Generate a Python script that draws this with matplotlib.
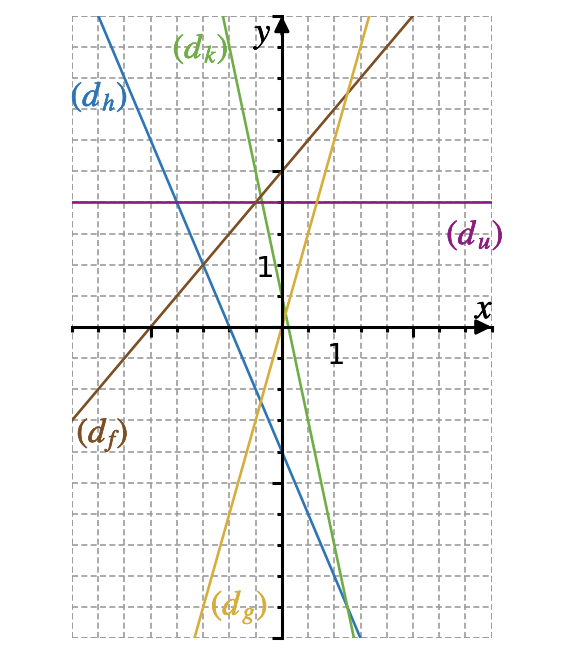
import numpy as np
import matplotlib
matplotlib.use("Agg")
import matplotlib.pyplot as plt
import matplotlib.patheffects as pe
from matplotlib.ticker import MultipleLocator, NullFormatter

plt.rcParams["mathtext.fontset"] = "stix"

# lines y = a*x + b
names = ["h", "k", "u", "f", "g"]
slopes = [-2.0, -4.0, 0.0, 1.0, 3.0]
intercepts = [-2.0, 0.5, 2.0, 2.5, 0.0]
colors = ["#2e75b6", "#70ad47", "#8b1c7e", "#7b4f23", "#d6ae3c"]
# label anchor (baseline) in data coords
label_x = [-3.48, -1.55, 3.68, -3.42, -0.81]
label_y = [3.55, 4.32, 1.33, -1.85, -4.62]

xmin, xmax = -4, 4
ymin, ymax = -5, 5

fig = plt.figure(figsize=(5.66, 6.6), dpi=100)
ax = fig.add_axes([72 / 566, 21.7 / 660, 419.7 / 566, 622.6 / 660])
ax.set_xlim(xmin, xmax)
ax.set_ylim(ymin, ymax)

# grid
ax.xaxis.set_major_locator(MultipleLocator(2.5))
ax.yaxis.set_major_locator(MultipleLocator(2.5))
ax.xaxis.set_minor_locator(MultipleLocator(0.5))
ax.yaxis.set_minor_locator(MultipleLocator(0.5))
ax.xaxis.set_major_formatter(NullFormatter())
ax.yaxis.set_major_formatter(NullFormatter())
ax.set_axisbelow(True)
gkw = dict(color="#9c9c9c", lw=1.2, ls=(0, (3.6, 2.0)))
ax.grid(which="both", **gkw)
for xv in (xmin, xmax):
    ax.axvline(xv, zorder=0.5, **gkw)
for yv in (ymin, ymax):
    ax.axhline(yv, zorder=0.5, **gkw)

# axes through origin
ax.spines["left"].set_position(("data", 0))
ax.spines["bottom"].set_position(("data", 0))
ax.spines["right"].set_visible(False)
ax.spines["top"].set_visible(False)
for s in ("left", "bottom"):
    ax.spines[s].set_linewidth(2.2)
    ax.spines[s].set_zorder(3)
ax.tick_params(which="major", direction="out", length=7, width=2.2, color="k")
ax.tick_params(which="minor", direction="out", length=3.5, width=2.2, color="k")

arrow = dict(arrowstyle="-|>,head_length=0.45,head_width=0.22",
             mutation_scale=20, color="k", lw=2.2, shrinkA=0, shrinkB=0)
ax.annotate("", xy=(xmax, 0), xytext=(xmax - 0.3, 0), arrowprops=arrow, annotation_clip=False)
ax.annotate("", xy=(0, ymax), xytext=(0, ymax - 0.3), arrowprops=arrow, annotation_clip=False)

xs = np.array([xmin, xmax])
for n, a, b, c, lx, ly in zip(names, slopes, intercepts, colors, label_x, label_y):
    ax.plot(xs, a * xs + b, color=c, lw=1.9, zorder=2)
    ax.text(lx, ly, rf"$(d_{{\,{n}}})$", color=c, fontsize=25, ha="center", va="baseline",
            path_effects=[pe.withStroke(linewidth=0.5, foreground=c)])

bold = [pe.withStroke(linewidth=0.5, foreground="k")]
ax.text(3.87, 0.3, r"$x$", fontsize=26, ha="center", va="center", path_effects=bold)
ax.text(-0.35, 4.7, r"$y$", fontsize=26, ha="center", va="center", path_effects=bold)
ax.text(1.03, -0.46, "1", fontsize=21, ha="center", va="center")
ax.text(-0.31, 0.93, "1", fontsize=21, ha="center", va="center")

fig.savefig("out.png", dpi=100)
